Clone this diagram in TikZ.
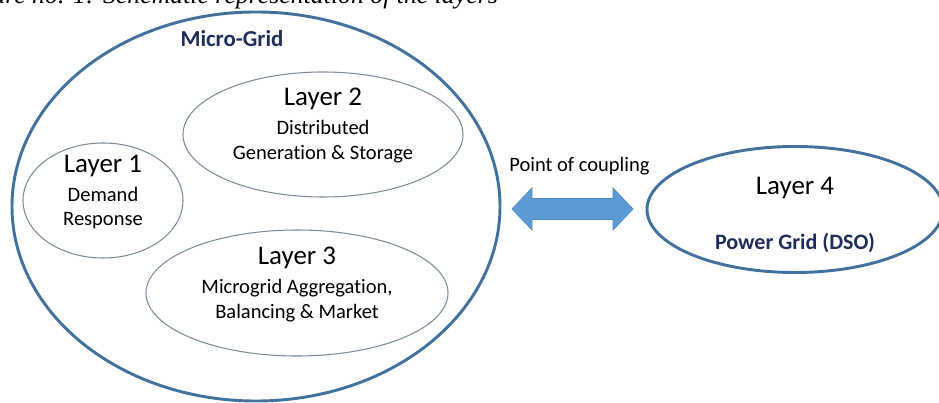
\documentclass[tikz,border=0pt]{standalone}
\usepackage{fontspec}
\setmainfont{Carlito}[Ligatures=NoCommon]
\newfontfamily\captionfont{Liberation Serif}
\usetikzlibrary{shapes.geometric}

\definecolor{ringblue}{HTML}{41719C}
\definecolor{layergray}{HTML}{7D8B99}
\definecolor{navy}{HTML}{1F2D5A}
\definecolor{arrowfill}{HTML}{5B9BD5}
\definecolor{arrowline}{HTML}{4F89C0}

\begin{document}
\begin{tikzpicture}[x=0.03cm, y=-0.03cm,
    ring/.style={ellipse, draw=ringblue, line width=2.5pt, inner sep=0pt},
    layer/.style={ellipse, draw=layergray, line width=0.9pt, inner sep=0pt},
    title/.style={anchor=base, inner sep=0pt, font=\fontsize{23}{27}\selectfont},
    body/.style={anchor=base, inner sep=0pt, align=center, font=\fontsize{17.5}{21}\selectfont},
    boldbody/.style={anchor=base, inner sep=0pt, text=navy, font=\fontsize{19.5}{23}\selectfont\bfseries},
    cplarrow/.style={fill=arrowfill, draw=arrowline, line width=0.6pt, line join=miter}]
    	\useasboundingbox (0, 0) rectangle (939, 403);
    	\clip (0, 0) rectangle (939, 403);
    	% Caption (cut off at the top):
    	\node[anchor=base east, inner sep=0pt, font=\fontsize{22}{26}\selectfont\captionfont\itshape] (cap) at (498, 4){Figure no. 1: Schematic representation of the layers};
    	% Ellipses:
    	\node[ring, minimum width=14.64cm, minimum height=11.67cm] (mg) at (256, 206.5){};
    	\node[layer, minimum width=4.8cm, minimum height=3.45cm] (lay1) at (103, 200.5){};
    	\node[layer, minimum width=8.4cm, minimum height=3.75cm] (lay2) at (323, 134.5){};
    	\node[layer, minimum width=9.06cm, minimum height=3.78cm] (lay3) at (297, 293){};
    	\node[ring, minimum width=8.88cm, minimum height=3.78cm] (lay4) at (795, 209.5){};
    	% Labels:
    	\node[boldbody] (mglabel) at (232, 46.7){Micro-Grid};
    	\node[title] (lay1title) at (103, 172.7){Layer 1};
    	\node[body] (lay1text) at (103, 226){Demand\\Response};
    	\node[title] (lay2title) at (323, 106){Layer 2};
    	\node[body] (lay2text) at (323, 159.3){Distributed\\Generation \& Storage};
    	\node[title] (lay3title) at (297, 264.3){Layer 3};
    	\node[body] (lay3text) at (297, 318.3){Microgrid Aggregation,\\Balancing \& Market};
    	\node[title] (lay4title) at (795, 195){Layer 4};
    	\node[boldbody, font=\fontsize{18.8}{22}\selectfont\bfseries] (lay4text) at (795, 250){Power Grid (DSO)};
    	% Point of coupling:
    	\node[body] (cpllabel) at (579.5, 171.7){Point of coupling};
    	\coordinate (cpl) at (572.5, 209);
    	\draw[cplarrow] (cpl) ++(-60.5, 0) -- ++(20, -21) -- ++(0, 10.5) -- ++(81, 0) -- ++(0, -10.5)
    	      -- ++(20, 21) -- ++(-20, 21) -- ++(0, -10.5) -- ++(-81, 0) -- ++(0, 10.5) -- cycle;
    \end{tikzpicture}
\end{document}
